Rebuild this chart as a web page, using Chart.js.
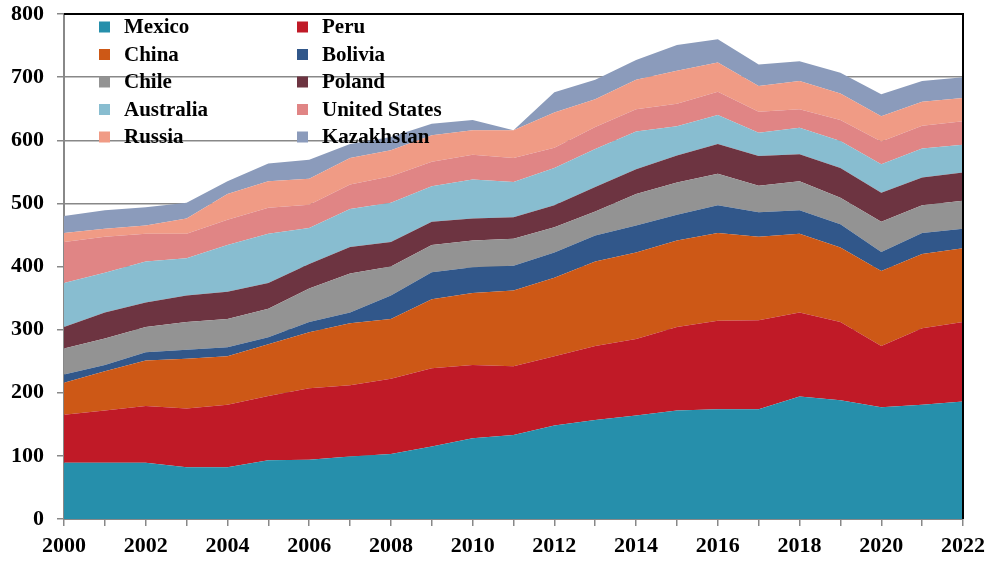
<!DOCTYPE html>
<html>
<head>
<meta charset="utf-8">
<script src="https://cdn.jsdelivr.net/npm/chart.js@4/dist/chart.umd.min.js"></script>
<style>
  html, body { margin: 0; padding: 0; background: #fff; }
  #wrap { width: 990px; height: 563px; position: relative; }
</style>
</head>
<body>
<div id="wrap"><canvas id="chart" width="990" height="563"></canvas></div>
<script>
// stacked area – output by country, 2000-2022
const years = ['2000','2001','2002','2003','2004','2005','2006','2007','2008','2009','2010','2011',
               '2012','2013','2014','2015','2016','2017','2018','2019','2020','2021','2022'];

const mexico     = [89, 89, 89, 82, 82, 93, 94, 99, 103, 115, 128, 133, 148, 157, 164, 172, 174, 174, 194, 188, 177, 181, 186];
const peru       = [76, 83, 90, 93, 99, 102, 113, 113, 119, 124, 116, 109, 110, 117, 121, 132, 140, 141, 133, 124, 97, 121, 126];
const china      = [51, 62, 72, 79, 77, 82, 89, 98, 95, 109, 114, 120, 124, 134, 137, 137, 139, 132, 125, 118, 119, 118, 117];
const bolivia    = [13, 10, 13, 14, 14, 11, 16, 17, 37, 43, 41, 39, 40, 41, 43, 41, 44, 39, 37, 37, 30, 33, 31];
const chile      = [41, 42, 40, 44, 45, 45, 53, 62, 46, 43, 42, 43, 40, 38, 50, 51, 50, 42, 46, 42, 48, 44, 44];
const poland     = [34, 41, 39, 42, 43, 41, 39, 42, 39, 37, 35, 34, 35, 39, 39, 43, 47, 47, 43, 47, 46, 44, 45];
const australia  = [70, 63, 65, 59, 74, 78, 57, 60, 62, 56, 62, 56, 59, 60, 60, 46, 46, 37, 42, 43, 45, 46, 44];
const usa        = [65, 57, 44, 39, 40, 41, 37, 39, 42, 39, 39, 38, 32, 35, 35, 36, 37, 33, 29, 33, 36, 36, 37];
const russia     = [14, 13, 13, 24, 41, 42, 41, 42, 41, 42, 39, 44, 56, 44, 47, 52, 46, 41, 45, 42, 40, 38, 37];
const kazakhstan = [27, 29, 29, 25, 20, 28, 30, 22, 21, 18, 16, 0, 32, 31, 31, 41, 37, 34, 31, 33, 35, 33, 33];

const names  = ['Mexico','Peru','China','Bolivia','Chile','Poland','Australia','United States','Russia','Kazakhstan'];
const series = [mexico, peru, china, bolivia, chile, poland, australia, usa, russia, kazakhstan];
const colors = ['#268FAB','#C01A27','#CD5816','#31578A','#939393','#6D3441','#88BDD0','#E08585','#F09B85','#8B9BBB'];

const yTicks = [0, 100, 200, 300, 400, 500, 600, 700, 800];

const FONT = 'Liberation Serif, "Times New Roman", serif';

// legend drawn inside the plot, two columns
const legendInside = {
  id: 'legendInside',
  afterDatasetsDraw(chart) {
    const ctx = chart.ctx, a = chart.chartArea;
    ctx.save();
    ctx.font = 'bold 21px ' + FONT;
    ctx.textBaseline = 'middle';
    names.forEach((n, i) => {
      const col = i % 2, row = Math.floor(i / 2);
      const x = a.left + 35 + col * 198;
      const y = a.top + 13 + row * 27.5;
      ctx.fillStyle = colors[i];
      ctx.fillRect(x, y - 5.5, 11, 11);
      ctx.fillStyle = '#000';
      ctx.fillText(n, x + 25, y + 1);
    });
    ctx.restore();
  }
};

// black frame on top and right side
const frame = {
  id: 'frame',
  afterDraw(chart) {
    const ctx = chart.ctx, a = chart.chartArea;
    ctx.save();
    ctx.strokeStyle = '#000';
    ctx.lineWidth = 2;
    ctx.beginPath();
    ctx.moveTo(a.left, a.top);
    ctx.lineTo(a.right, a.top);
    ctx.lineTo(a.right, a.bottom);
    ctx.stroke();
    ctx.restore();
  }
};

const ctx = document.getElementById('chart').getContext('2d');
new Chart(ctx, {
  type: 'line',
  data: {
    labels: years,
    datasets: series.map((d, i) => ({
      label: names[i],
      data: d,
      backgroundColor: colors[i],
      borderWidth: 0,
      pointRadius: 0,
      tension: 0,
      fill: i === 0 ? 'origin' : '-1'
    }))
  },
  options: {
    responsive: false,
    animation: false,
    layout: { padding: { left: 11, right: 27, top: 14, bottom: 0 } },
    plugins: {
      legend: { display: false },
      tooltip: { enabled: false }
    },
    scales: {
      x: {
        type: 'category',
        offset: false,
        afterFit: s => { s.height = 44; s.paddingLeft = 0; s.paddingRight = 0; },
        grid: { drawOnChartArea: false, drawTicks: true, tickLength: 7, color: '#888', lineWidth: 1.5 },
        border: { color: '#888', width: 2 },
        ticks: {
          autoSkip: false,
          maxRotation: 0,
          color: '#000',
          font: { family: FONT, size: 22, weight: 'bold' },
          padding: 7,
          callback: function (v, i) { return i % 2 === 0 ? this.getLabelForValue(v) : ''; }
        }
      },
      y: {
        stacked: true,
        min: yTicks[0],
        max: yTicks[yTicks.length - 1],
        afterBuildTicks: s => { s.ticks = yTicks.map(v => ({ value: v })); },
        afterFit: s => { s.width = 53; s.paddingTop = 0; s.paddingBottom = 0; },
        grid: { color: '#888', lineWidth: 1.5, tickLength: 7 },
        border: { color: '#888', width: 2 },
        ticks: {
          color: '#000',
          font: { family: FONT, size: 22, weight: 'bold' },
          padding: 13
        }
      }
    }
  },
  plugins: [legendInside, frame]
});
</script>
</body>
</html>
